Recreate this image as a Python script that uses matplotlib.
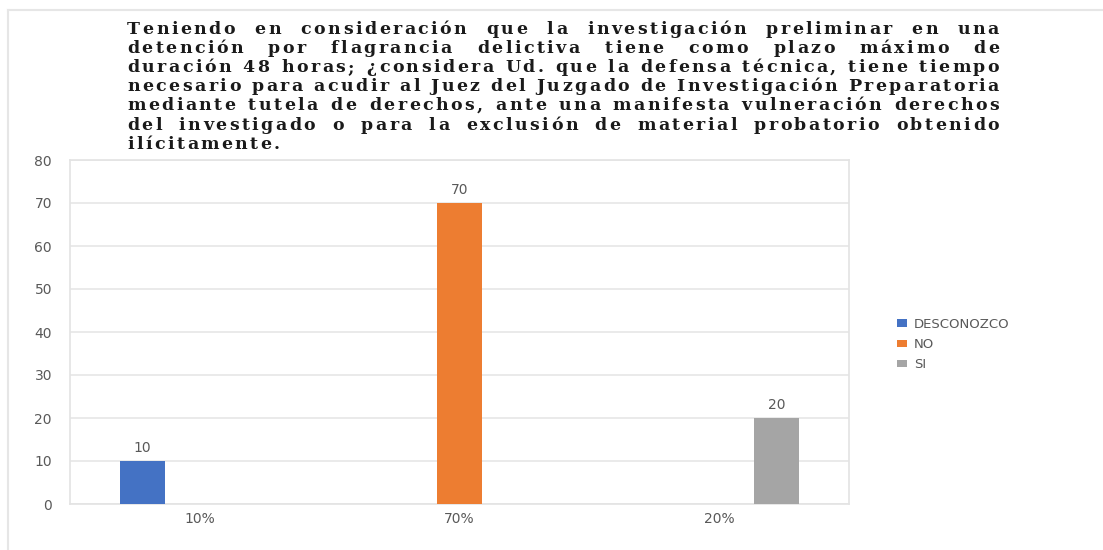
import matplotlib
matplotlib.use("Agg")
from matplotlib import pyplot as plt
from matplotlib.lines import Line2D
from matplotlib.font_manager import FontProperties, findfont, get_font
import numpy as np

# datos
categorias = ["10%", "70%", "20%"]
series = ["DESCONOZCO", "NO", "SI"]
desconozco = [10, 0, 0]
no = [0, 70, 0]
si = [0, 0, 20]
colores = ["#4472C4", "#ED7D31", "#A5A5A5"]

lineas = [
    "Teniendo en consideración que la investigación preliminar en una",
    "detención por flagrancia delictiva tiene como plazo máximo de",
    "duración 48 horas; ¿considera Ud. que la defensa técnica, tiene tiempo",
    "necesario para acudir al Juez del Juzgado de Investigación Preparatoria",
    "mediante tutela de derechos, ante una manifesta vulneración derechos",
    "del investigado o para la exclusión de material probatorio obtenido",
    "ilícitamente.",
]

W, H = 1103, 550
fig = plt.figure(figsize=(W / 100, H / 100), dpi=100)

gris = "#595959"
ax = fig.add_axes([70 / W, 1 - 504 / H, 779 / W, 344 / H])

x = np.arange(len(categorias))
ancho = 0.173
desp = 0.22
valores = [desconozco, no, si]
for i, (nombre, vals) in enumerate(zip(series, valores)):
    pos = x + (i - 1) * desp
    barras = ax.bar(pos, vals, ancho, color=colores[i], label=nombre, zorder=3)
    for b, v in zip(barras, vals):
        if v > 0:
            ax.text(b.get_x() + b.get_width() / 2, v + 1.3, str(v),
                    ha="center", va="bottom", fontsize=10, color=gris)

ax.set_xlim(-0.5, 2.5)
ax.set_ylim(0, 80)
ax.set_yticks(range(0, 81, 10))
ax.set_xticks(x)
ax.set_xticklabels(categorias)
ax.tick_params(axis="both", length=0, labelsize=10, labelcolor=gris)
ax.tick_params(axis="y", pad=13)
ax.tick_params(axis="x", pad=6)
ax.grid(axis="y", color="#e6e6e6", linewidth=1.2, zorder=0)
for s in ax.spines.values():
    s.set_color("#e3e3e3")
    s.set_linewidth(1.2)

leg = ax.legend(loc="upper left", bbox_to_anchor=(885 / W, 1 - 306 / H),
                bbox_transform=fig.transFigure, frameon=False, fontsize=9.5,
                handlelength=0.8, handleheight=0.5, handletextpad=0.5,
                labelspacing=0.55, labelcolor=gris)

# título justificado: espaciado de letras fijo (texto ensanchado) y
# el resto del hueco repartido entre palabras
x0, x1 = 127, 999
base0, paso = 34, 19.1
tam = 12.5
fp = FontProperties(family="DejaVu Serif", weight="bold")
fuente = dict(fontproperties=fp, fontsize=tam, color="#1a1a1a")
ft = get_font(findfont(fp))
ft.set_size(tam, 100)


def avance(c):
    return ft.load_char(ord(c)).linearHoriAdvance / 65536


datos = []
for linea in lineas:
    avs = [avance(c) for c in linea]
    datos.append((linea, avs, sum(avs)))

# la línea más llena fija el espaciado de letras
track = min((x1 - x0 - nat) / (len(l) - 1) for l, a, nat in datos[:-1])

for k, (linea, avs, nat) in enumerate(datos):
    y = 1 - (base0 + k * paso) / H
    n_esp = linea.count(" ")
    extra = 0.0
    if k < len(datos) - 1 and n_esp:
        extra = (x1 - x0 - nat - track * (len(linea) - 1)) / n_esp
    xp = x0
    for c, a in zip(linea, avs):
        if c != " ":
            fig.text(xp / W, y, c, ha="left", va="baseline", **fuente)
            xp += a + track
        else:
            xp += a + track + extra

# borde exterior
fig.add_artist(Line2D([8 / W, 1], [1 - 10 / H, 1 - 10 / H], color="#e6e6e6", linewidth=1.5))
fig.add_artist(Line2D([8 / W, 8 / W], [0, 1 - 10 / H], color="#e6e6e6", linewidth=1.5))

fig.savefig("out.png", dpi=100)
